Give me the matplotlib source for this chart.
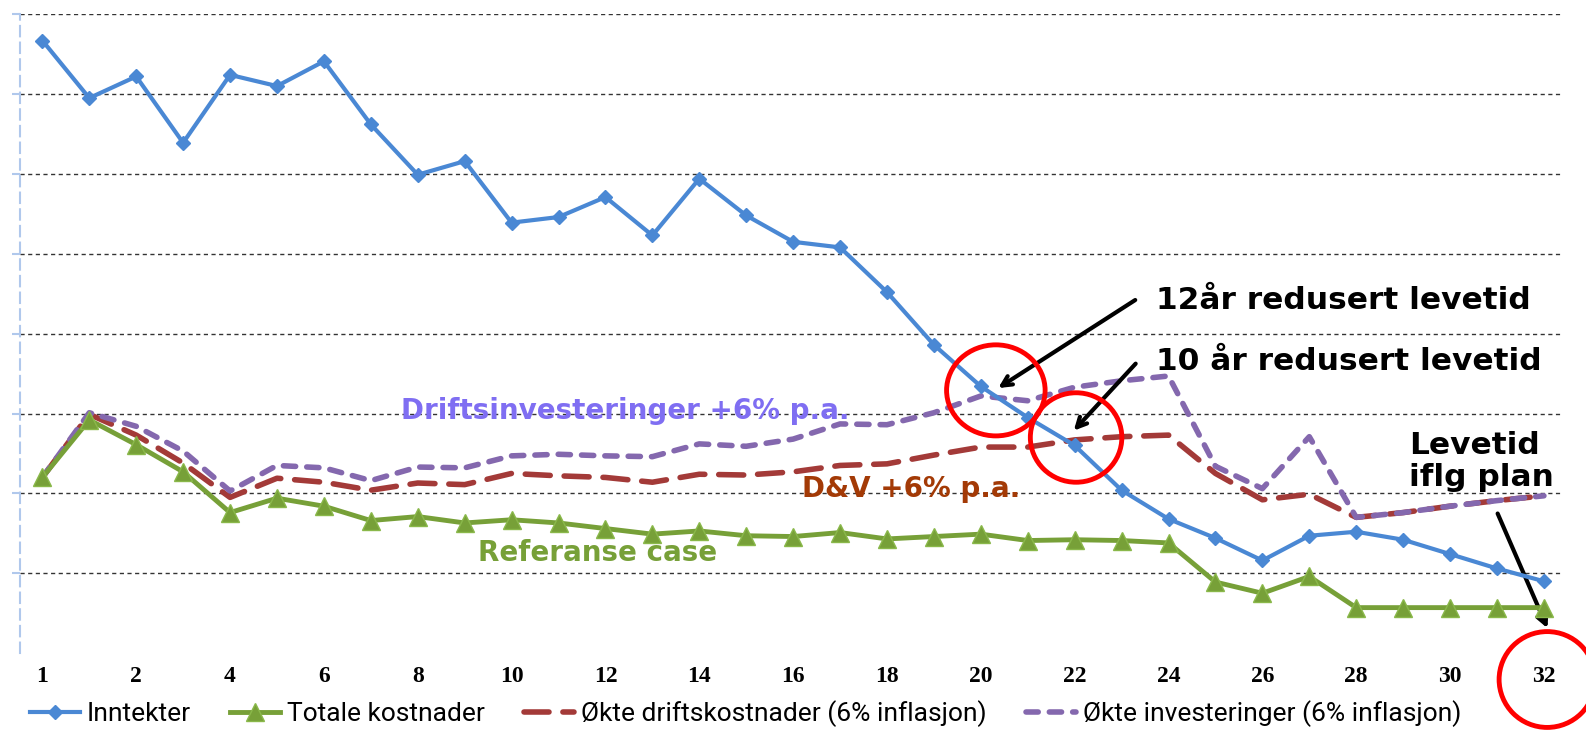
import numpy as np
import matplotlib.pyplot as plt
from matplotlib.patches import Ellipse

# kategorier (år) og merkelapper på x-aksen
aar = np.arange(33)
tick_pos = [0] + list(range(2, 33, 2))
tick_txt = ["1"] + [str(v) for v in range(2, 33, 2)]

inntekter = [7.67, 6.95, 7.22, 6.39, 7.24, 7.10, 7.41, 6.62, 5.99, 6.16, 5.39,
             5.46, 5.71, 5.23, 5.94, 5.48, 5.15, 5.08, 4.52, 3.86, 3.34, 2.95,
             2.60, 2.04, 1.68, 1.44, 1.16, 1.47, 1.52, 1.42, 1.24, 1.06, 0.90]
totale = [2.20, 2.92, 2.61, 2.27, 1.76, 1.94, 1.84, 1.66, 1.71, 1.63, 1.67,
          1.63, 1.56, 1.49, 1.53, 1.47, 1.46, 1.51, 1.43, 1.46, 1.49, 1.41,
          1.42, 1.41, 1.38, 0.89, 0.75, 0.96, 0.57, 0.57, 0.57, 0.57, 0.57]
drift = [2.20, 2.99, 2.73, 2.38, 1.95, 2.19, 2.14, 2.04, 2.13, 2.11, 2.25,
         2.22, 2.20, 2.14, 2.24, 2.23, 2.27, 2.35, 2.37, 2.48, 2.58, 2.58,
         2.67, 2.71, 2.73, 2.25, 1.92, 1.99, 1.70, 1.76, 1.84, 1.91, 1.97]
invest = [2.20, 3.01, 2.84, 2.53, 2.03, 2.35, 2.32, 2.16, 2.33, 2.32, 2.47,
          2.49, 2.47, 2.46, 2.62, 2.59, 2.68, 2.87, 2.86, 3.01, 3.22, 3.16,
          3.33, 3.41, 3.47, 2.34, 2.06, 2.71, 1.70, 1.76, 1.84, 1.91, 1.97]

fig = plt.figure(figsize=(15.86, 7.31), dpi=100)
ax = fig.add_axes([0.0128, 0.1065, 0.9725, 0.8741])

ax.plot(aar, inntekter, color='#4a88d4', lw=3, marker='D', ms=7,
        label='Inntekter', zorder=5)
ax.plot(aar, totale, color='#77a038', lw=3.5, marker='^', ms=13,
        markeredgecolor='#8ab84a', label='Totale kostnader', zorder=4)
ax.plot(aar, drift, color='#a33a38', lw=4, dashes=(4.5, 2.5),
        dash_capstyle='round', label='Økte driftskostnader (6% inflasjon)', zorder=3)
ax.plot(aar, invest, color='#8468ae', lw=4, dashes=(2.2, 2.0),
        dash_capstyle='round', label='Økte investeringer (6% inflasjon)', zorder=3)

ax.set_xlim(-0.47, 32.4)
ax.set_ylim(0, 8)
ax.set_yticks(np.arange(1, 9))
ax.set_yticklabels([])
ax.yaxis.grid(True, color='#333333', lw=1, linestyle=(0, (3, 2.5)))
ax.set_axisbelow(True)

ax.set_xticks(tick_pos)
ax.set_xticklabels(tick_txt, fontfamily='Liberation Serif', fontweight='bold',
                   fontsize=17)
ax.tick_params(axis='x', length=0, pad=9)
ax.tick_params(axis='y', length=6, color='#b0c8ec', width=1.5)
for s in ['top', 'right', 'bottom']:
    ax.spines[s].set_visible(False)
ax.spines['left'].set_color('#b0c8ec')
ax.spines['left'].set_linestyle((0, (5, 3)))
ax.spines['left'].set_linewidth(1.5)

# tekst i diagrammet
bold = dict(fontfamily='DejaVu Sans', fontweight='bold', va='center', ha='left')
ax.text(7.65, 3.03, 'Driftsinvesteringer +6% p.a.', color='#7f6ef2', fontsize=20, **bold)
ax.text(16.19, 2.06, 'D&V +6% p.a.', color='#a33a06', fontsize=20, **bold)
ax.text(9.29, 1.25, 'Referanse case', color='#77a038', fontsize=20, **bold)
ax.text(23.73, 4.41, '12år redusert levetid', color='black', fontsize=22.5, **bold)
ax.text(23.73, 3.65, '10 år redusert levetid', color='black', fontsize=22.5, **bold)
ax.text(29.12, 2.40, 'Levetid\niflg plan', color='black', fontsize=22.5,
        linespacing=1.15, **bold)

pil = dict(arrowstyle='->,head_length=0.7,head_width=0.35', color='black', lw=3)
ax.annotate('', xy=(20.32, 3.30), xytext=(23.34, 4.44), arrowprops=pil)
ax.annotate('', xy=(21.94, 2.76), xytext=(23.34, 3.65), arrowprops=pil)
ax.annotate('', xy=(32.1, 0.28), xytext=(30.99, 1.78), arrowprops=pil,
            annotation_clip=False)

for (cx, cy, w, h) in [(20.32, 3.29, 2.10, 1.14), (22.03, 2.70, 1.95, 1.12),
                       (32.07, -0.33, 2.05, 1.20)]:
    ax.add_patch(Ellipse((cx, cy), w, h, fill=False, edgecolor='#ff0000',
                         lw=3.5, clip_on=False, zorder=6))

fig.legend(loc='center', bbox_to_anchor=(0.47, 0.024), ncol=4,
           frameon=False, handlelength=1.9, columnspacing=1.5,
           handletextpad=0.25, prop={'family': 'Roboto', 'size': 19})

fig.savefig('out.png', dpi=100)
